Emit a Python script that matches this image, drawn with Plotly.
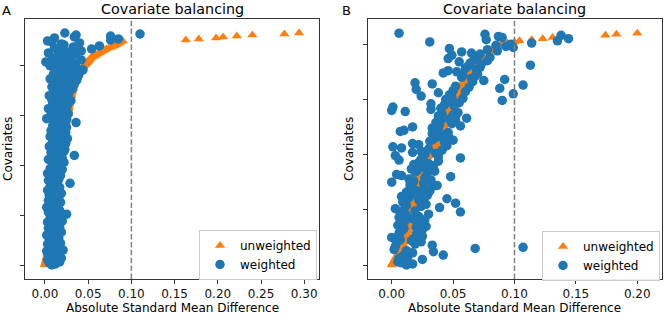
import plotly.graph_objects as go

# ---------------- data ----------------
a_unweighted = [
    0.000, 0.000, 0.001, 0.001, 0.001, 0.002, 0.002, 0.002, 0.002, 0.003,
    0.003, 0.003, 0.003, 0.003, 0.004, 0.004, 0.004, 0.004, 0.004, 0.004,
    0.005, 0.005, 0.005, 0.005, 0.005, 0.005, 0.005, 0.006, 0.006, 0.006,
    0.006, 0.006, 0.006, 0.006, 0.007, 0.007, 0.007, 0.007, 0.007, 0.007,
    0.007, 0.007, 0.008, 0.008, 0.008, 0.008, 0.008, 0.008, 0.008, 0.008,
    0.008, 0.009, 0.009, 0.009, 0.009, 0.009, 0.009, 0.009, 0.009, 0.010,
    0.010, 0.010, 0.010, 0.010, 0.010, 0.010, 0.010, 0.010, 0.010, 0.010,
    0.010, 0.011, 0.011, 0.011, 0.011, 0.011, 0.011, 0.011, 0.011, 0.011,
    0.011, 0.012, 0.012, 0.012, 0.012, 0.012, 0.012, 0.012, 0.012, 0.012,
    0.012, 0.013, 0.013, 0.013, 0.013, 0.013, 0.013, 0.014, 0.014, 0.014,
    0.014, 0.014, 0.015, 0.015, 0.015, 0.015, 0.016, 0.016, 0.016, 0.016,
    0.017, 0.017, 0.017, 0.017, 0.018, 0.018, 0.018, 0.018, 0.019, 0.019,
    0.019, 0.019, 0.019, 0.020, 0.020, 0.020, 0.020, 0.020, 0.021, 0.021,
    0.021, 0.021, 0.021, 0.022, 0.022, 0.022, 0.022, 0.023, 0.023, 0.023,
    0.023, 0.023, 0.024, 0.024, 0.024, 0.024, 0.024, 0.025, 0.025, 0.025,
    0.025, 0.025, 0.026, 0.026, 0.026, 0.026, 0.026, 0.027, 0.027, 0.027,
    0.027, 0.027, 0.028, 0.028, 0.028, 0.028, 0.029, 0.029, 0.029, 0.029,
    0.030, 0.030, 0.030, 0.030, 0.031, 0.031, 0.031, 0.032, 0.032, 0.032,
    0.033, 0.033, 0.034, 0.034, 0.035, 0.035, 0.036, 0.036, 0.037, 0.037,
    0.038, 0.038, 0.039, 0.040, 0.040, 0.041, 0.042, 0.043, 0.043, 0.044,
    0.045, 0.046, 0.047, 0.048, 0.049, 0.050, 0.051, 0.052, 0.053, 0.055,
    0.057, 0.059, 0.061, 0.063, 0.065, 0.067, 0.069, 0.071, 0.074, 0.077,
    0.080, 0.082, 0.084, 0.086, 0.088, 0.090,
    0.163, 0.178, 0.198, 0.206, 0.222, 0.240, 0.277, 0.294,
]

a_weighted = [
    0.008, 0.012, 0.005, 0.017, 0.010, 0.003, 0.014, 0.019, 0.007, 0.011,
    0.004, 0.016, 0.009, 0.013, 0.002, 0.021, 0.008, 0.012, 0.006, 0.015,
    0.010, 0.003, 0.018, 0.011, 0.007, 0.013, 0.005, 0.016, 0.009, 0.012,
    0.002, 0.014, 0.008, 0.019, 0.011, 0.006, 0.013, 0.004, 0.017, 0.010,
    0.007, 0.015, 0.012, 0.003, 0.020, 0.009, 0.013, 0.006, 0.016, 0.011,
    0.008, 0.025, 0.014, 0.004, 0.010, 0.017, 0.007, 0.012, 0.002, 0.015,
    0.009, 0.013, 0.006, 0.018, 0.011, 0.004, 0.014, 0.008, 0.016, 0.010,
    0.005, 0.012, 0.019, 0.007, 0.013, 0.003, 0.015, 0.010, 0.017, 0.006,
    0.011, 0.014, 0.029, 0.008, 0.012, 0.004, 0.016, 0.009, 0.013, 0.006,
    0.018, 0.010, 0.003, 0.014, 0.008, 0.012, 0.020, 0.006, 0.011, 0.015,
    0.009, 0.018, 0.013, 0.022, 0.011, 0.016, 0.004, 0.020, 0.014, 0.019,
    0.034, 0.012, 0.017, 0.007, 0.022, 0.015, 0.023, 0.010, 0.019, 0.005,
    0.020, 0.013, 0.024, 0.016, 0.009, 0.019, 0.012, 0.026, 0.017, 0.006,
    0.021, 0.014, 0.010, 0.024, 0.018, 0.007, 0.020, 0.013, 0.025, 0.017,
    0.009, 0.022, 0.015, 0.036, 0.019, 0.011, 0.025, 0.002, 0.018, 0.014,
    0.021, 0.007, 0.027, 0.016, 0.011, 0.024, 0.015, 0.004, 0.020, 0.013,
    0.026, 0.017, 0.009, 0.023, 0.014, 0.030, 0.008, 0.019, 0.015, 0.025,
    0.005, 0.021, 0.016, 0.028, 0.011, 0.020, 0.013, 0.032, 0.018, 0.008,
    0.024, 0.015, 0.034, 0.012, 0.027, 0.019, 0.037, 0.006, 0.022, 0.030,
    0.016, 0.039, 0.010, 0.025, 0.033, 0.020, 0.044, 0.013, 0.029, 0.036,
    0.006, 0.020, 0.035, 0.013, 0.001, 0.026, 0.042, 0.019, 0.009, 0.031,
    0.024, 0.015, 0.036, 0.004, 0.028, 0.042, 0.019, 0.054, 0.011, 0.033,
    0.063, 0.022, 0.019, 0.040, 0.008, 0.003,
    0.076, 0.085, 0.011, 0.034, 0.076, 0.036, 0.110, 0.023,
]

b_unweighted = [
    0.000, 0.001, 0.001, 0.002, 0.002, 0.003, 0.003, 0.004, 0.004, 0.005,
    0.005, 0.006, 0.006, 0.006, 0.007, 0.007, 0.008, 0.008, 0.008, 0.009,
    0.009, 0.010, 0.010, 0.010, 0.011, 0.011, 0.011, 0.012, 0.012, 0.012,
    0.012, 0.013, 0.013, 0.013, 0.013, 0.014, 0.014, 0.014, 0.014, 0.015,
    0.015, 0.015, 0.015, 0.015, 0.016, 0.016, 0.016, 0.016, 0.016, 0.016,
    0.016, 0.017, 0.017, 0.017, 0.017, 0.018, 0.018, 0.018, 0.018, 0.019,
    0.019, 0.019, 0.019, 0.020, 0.020, 0.020, 0.020, 0.021, 0.021, 0.021,
    0.021, 0.022, 0.022, 0.022, 0.022, 0.022, 0.023, 0.023, 0.023, 0.023,
    0.023, 0.024, 0.024, 0.024, 0.024, 0.024, 0.025, 0.025, 0.025, 0.025,
    0.025, 0.026, 0.026, 0.026, 0.027, 0.027, 0.028, 0.028, 0.029, 0.030,
    0.031, 0.032, 0.033, 0.033, 0.034, 0.034, 0.035, 0.035, 0.036, 0.036,
    0.037, 0.037, 0.037, 0.038, 0.038, 0.038, 0.039, 0.039, 0.039, 0.040,
    0.040, 0.040, 0.041, 0.041, 0.041, 0.042, 0.042, 0.042, 0.042, 0.043,
    0.043, 0.043, 0.044, 0.044, 0.044, 0.045, 0.045, 0.045, 0.045, 0.046,
    0.046, 0.046, 0.047, 0.047, 0.047, 0.048, 0.048, 0.049, 0.049, 0.050,
    0.050, 0.051, 0.051, 0.052, 0.052, 0.053, 0.053, 0.054, 0.055, 0.055,
    0.056, 0.056, 0.057, 0.057, 0.058, 0.058, 0.059, 0.059, 0.060, 0.060,
    0.061, 0.061, 0.061, 0.062, 0.062, 0.063, 0.063, 0.063, 0.064, 0.064,
    0.065, 0.066, 0.067, 0.068, 0.068, 0.069, 0.070, 0.071, 0.072, 0.074,
    0.075, 0.076, 0.077, 0.079, 0.080, 0.082, 0.083, 0.085, 0.087, 0.089,
    0.091, 0.094, 0.100, 0.104, 0.114, 0.123, 0.131, 0.139, 0.174, 0.183,
    0.200,
]

b_weighted = [
    0.012, 0.017, 0.008, 0.005, 0.010, 0.025, 0.006, 0.013, 0.009, 0.042,
    0.011, 0.017, 0.034, 0.012, 0.002, 0.068, 0.107, 0.003, 0.033, 0.019,
    0.004, 0.024, 0.016, 0.007, 0.018, 0.000, 0.025, 0.006, 0.020, 0.006,
    0.022, 0.008, 0.025, 0.010, 0.020, 0.028, 0.005, 0.021, 0.009, 0.024,
    0.011, 0.027, 0.017, 0.006, 0.022, 0.012, 0.030, 0.007, 0.056, 0.019,
    0.010, 0.003, 0.039, 0.024, 0.012, 0.028, 0.052, 0.009, 0.026, 0.022,
    0.045, 0.014, 0.008, 0.029, 0.016, 0.023, 0.012, 0.031, 0.019, 0.026,
    0.015, 0.033, 0.037, 0.015, 0.026, 0.000, 0.018, 0.032, 0.014, 0.027,
    0.048, 0.008, 0.004, 0.029, 0.019, 0.035, 0.021, 0.016, 0.031, 0.025,
    0.034, 0.018, 0.030, 0.022, 0.038, 0.006, 0.024, 0.056, 0.038, 0.003,
    0.027, 0.036, 0.017, 0.024, 0.041, 0.030, 0.008, 0.001, 0.045, 0.022,
    0.017, 0.043, 0.031, 0.050, 0.034, 0.047, 0.037, 0.041, 0.044, 0.033,
    0.046, 0.007, 0.010, 0.038, 0.033, 0.017, 0.056, 0.039, 0.049, 0.036,
    0.052, 0.040, 0.047, 0.061, 0.052, 0.038, 0.050, 0.041, 0.054, 0.011,
    0.000, 0.032, 0.040, 0.001, 0.051, 0.043, 0.032, 0.055, 0.046, 0.090,
    0.044, 0.058, 0.049, 0.024, 0.047, 0.099, 0.038, 0.060, 0.050, 0.020,
    0.088, 0.063, 0.052, 0.107, 0.033, 0.019, 0.066, 0.075, 0.092, 0.065,
    0.057, 0.068, 0.058, 0.070, 0.042, 0.053, 0.046, 0.069, 0.060, 0.072,
    0.062, 0.113, 0.073, 0.064, 0.055, 0.078, 0.067, 0.046, 0.080, 0.070,
    0.049, 0.072, 0.065, 0.057, 0.086, 0.078, 0.047, 0.099, 0.093, 0.085,
    0.097, 0.114, 0.031, 0.135, 0.077, 0.144, 0.090, 0.087, 0.138, 0.076,
    0.006,
]

xticks_a = [0.00, 0.05, 0.10, 0.15, 0.20, 0.25, 0.30]
xticks_b = [0.00, 0.05, 0.10, 0.15, 0.20]
yticks = [0, 50, 100, 150, 200]
threshold = 0.1
series_names = ["unweighted", "weighted"]
panel_letters = ["A", "B"]
title_text = "Covariate balancing"
xlabel = "Absolute Standard Mean Difference"
ylabel = "Covariates"

# ---------------- figure ----------------
W, H = 664, 315
ORANGE = "#ff7f0e"
BLUE = "#1f77b4"
FONT = "DejaVu Sans"

fig = go.Figure()

panels = [
    dict(unw=a_unweighted, w=a_weighted, xa="x", ya="y", leg="legend"),
    dict(unw=b_unweighted, w=b_weighted, xa="x2", ya="y2", leg="legend2"),
]
for p in panels:
    idx = list(range(len(p["unw"])))
    fig.add_trace(go.Scatter(
        x=p["unw"], y=idx, mode="markers", name=series_names[0],
        marker=dict(symbol="triangle-up", size=9, color=ORANGE, line=dict(width=0)),
        xaxis=p["xa"], yaxis=p["ya"], legend=p["leg"]))
    fig.add_trace(go.Scatter(
        x=p["w"], y=idx, mode="markers", name=series_names[1],
        marker=dict(symbol="circle", size=9.5, color=BLUE, line=dict(width=0)),
        xaxis=p["xa"], yaxis=p["ya"], legend=p["leg"]))

def px_x(v):
    return v / W

def px_y(v):
    return 1 - v / H

ydom = [px_y(279), px_y(19)]
axis_common = dict(
    showline=True, linecolor="#333333", linewidth=1, mirror=True,
    ticks="outside", ticklen=4, tickwidth=1, tickcolor="#333333",
    showgrid=False, zeroline=False,
    tickfont=dict(family=FONT, size=12, color="#111111"),
)

fig.update_layout(
    xaxis=dict(domain=[px_x(25), px_x(319)], range=[-0.0231, 0.3171],
               tickvals=xticks_a, ticktext=[f"{t:.2f}" for t in xticks_a],
               anchor="y", **axis_common),
    yaxis=dict(domain=ydom, range=[-14.06, 247.06], tickvals=yticks,
               showticklabels=False, anchor="x", **axis_common),
    xaxis2=dict(domain=[px_x(367.7), px_x(661.7)], range=[-0.01954, 0.2199],
                tickvals=xticks_b, ticktext=[f"{t:.2f}" for t in xticks_b],
                anchor="y2", **axis_common),
    yaxis2=dict(domain=ydom, range=[-12.68, 222.8], tickvals=yticks,
                showticklabels=False, anchor="x2", **axis_common),
)

for xa in ["x", "x2"]:
    fig.add_shape(type="line", xref=xa, yref=("y domain" if xa == "x" else "y2 domain"),
                  x0=threshold, x1=threshold, y0=0, y1=1, layer="above",
                  line=dict(color="#808080", width=1.5, dash="5.5px,2.4px"))

annotations = []
centers = [172, 514.7]
ylab_x = [8, 349]
letter_x = [6.5, 347]
for i in range(2):
    annotations.append(dict(text=title_text, x=px_x(centers[i]), y=px_y(9),
                            xref="paper", yref="paper", showarrow=False,
                            xanchor="center", yanchor="middle",
                            font=dict(family=FONT, size=14.3, color="#000")))
    annotations.append(dict(text=xlabel, x=px_x(centers[i]), y=px_y(308),
                            xref="paper", yref="paper", showarrow=False,
                            xanchor="center", yanchor="middle",
                            font=dict(family=FONT, size=12, color="#000")))
    annotations.append(dict(text=ylabel, x=px_x(ylab_x[i]), y=px_y(149),
                            xref="paper", yref="paper", showarrow=False,
                            xanchor="center", yanchor="middle", textangle=-90,
                            font=dict(family=FONT, size=12, color="#000")))
    annotations.append(dict(text=panel_letters[i], x=px_x(letter_x[i]), y=px_y(11),
                            xref="paper", yref="paper", showarrow=False,
                            xanchor="center", yanchor="middle",
                            font=dict(family=FONT, size=13, color="#000")))

legend_common = dict(bgcolor="rgba(255,255,255,0.9)", bordercolor="#cccccc",
                     borderwidth=1, font=dict(family=FONT, size=12, color="#000"),
                     xanchor="left", yanchor="top", tracegroupgap=0)

fig.update_layout(
    width=W, height=H,
    margin=dict(l=0, r=0, t=0, b=0, pad=0),
    paper_bgcolor="white", plot_bgcolor="white",
    showlegend=True,
    legend=dict(x=px_x(199), y=px_y(230), **legend_common),
    legend2=dict(x=px_x(542), y=px_y(231), **legend_common),
    annotations=annotations,
)

fig.write_html("out.html", config={"displayModeBar": False},
               post_script="document.body.style.margin='0';")
